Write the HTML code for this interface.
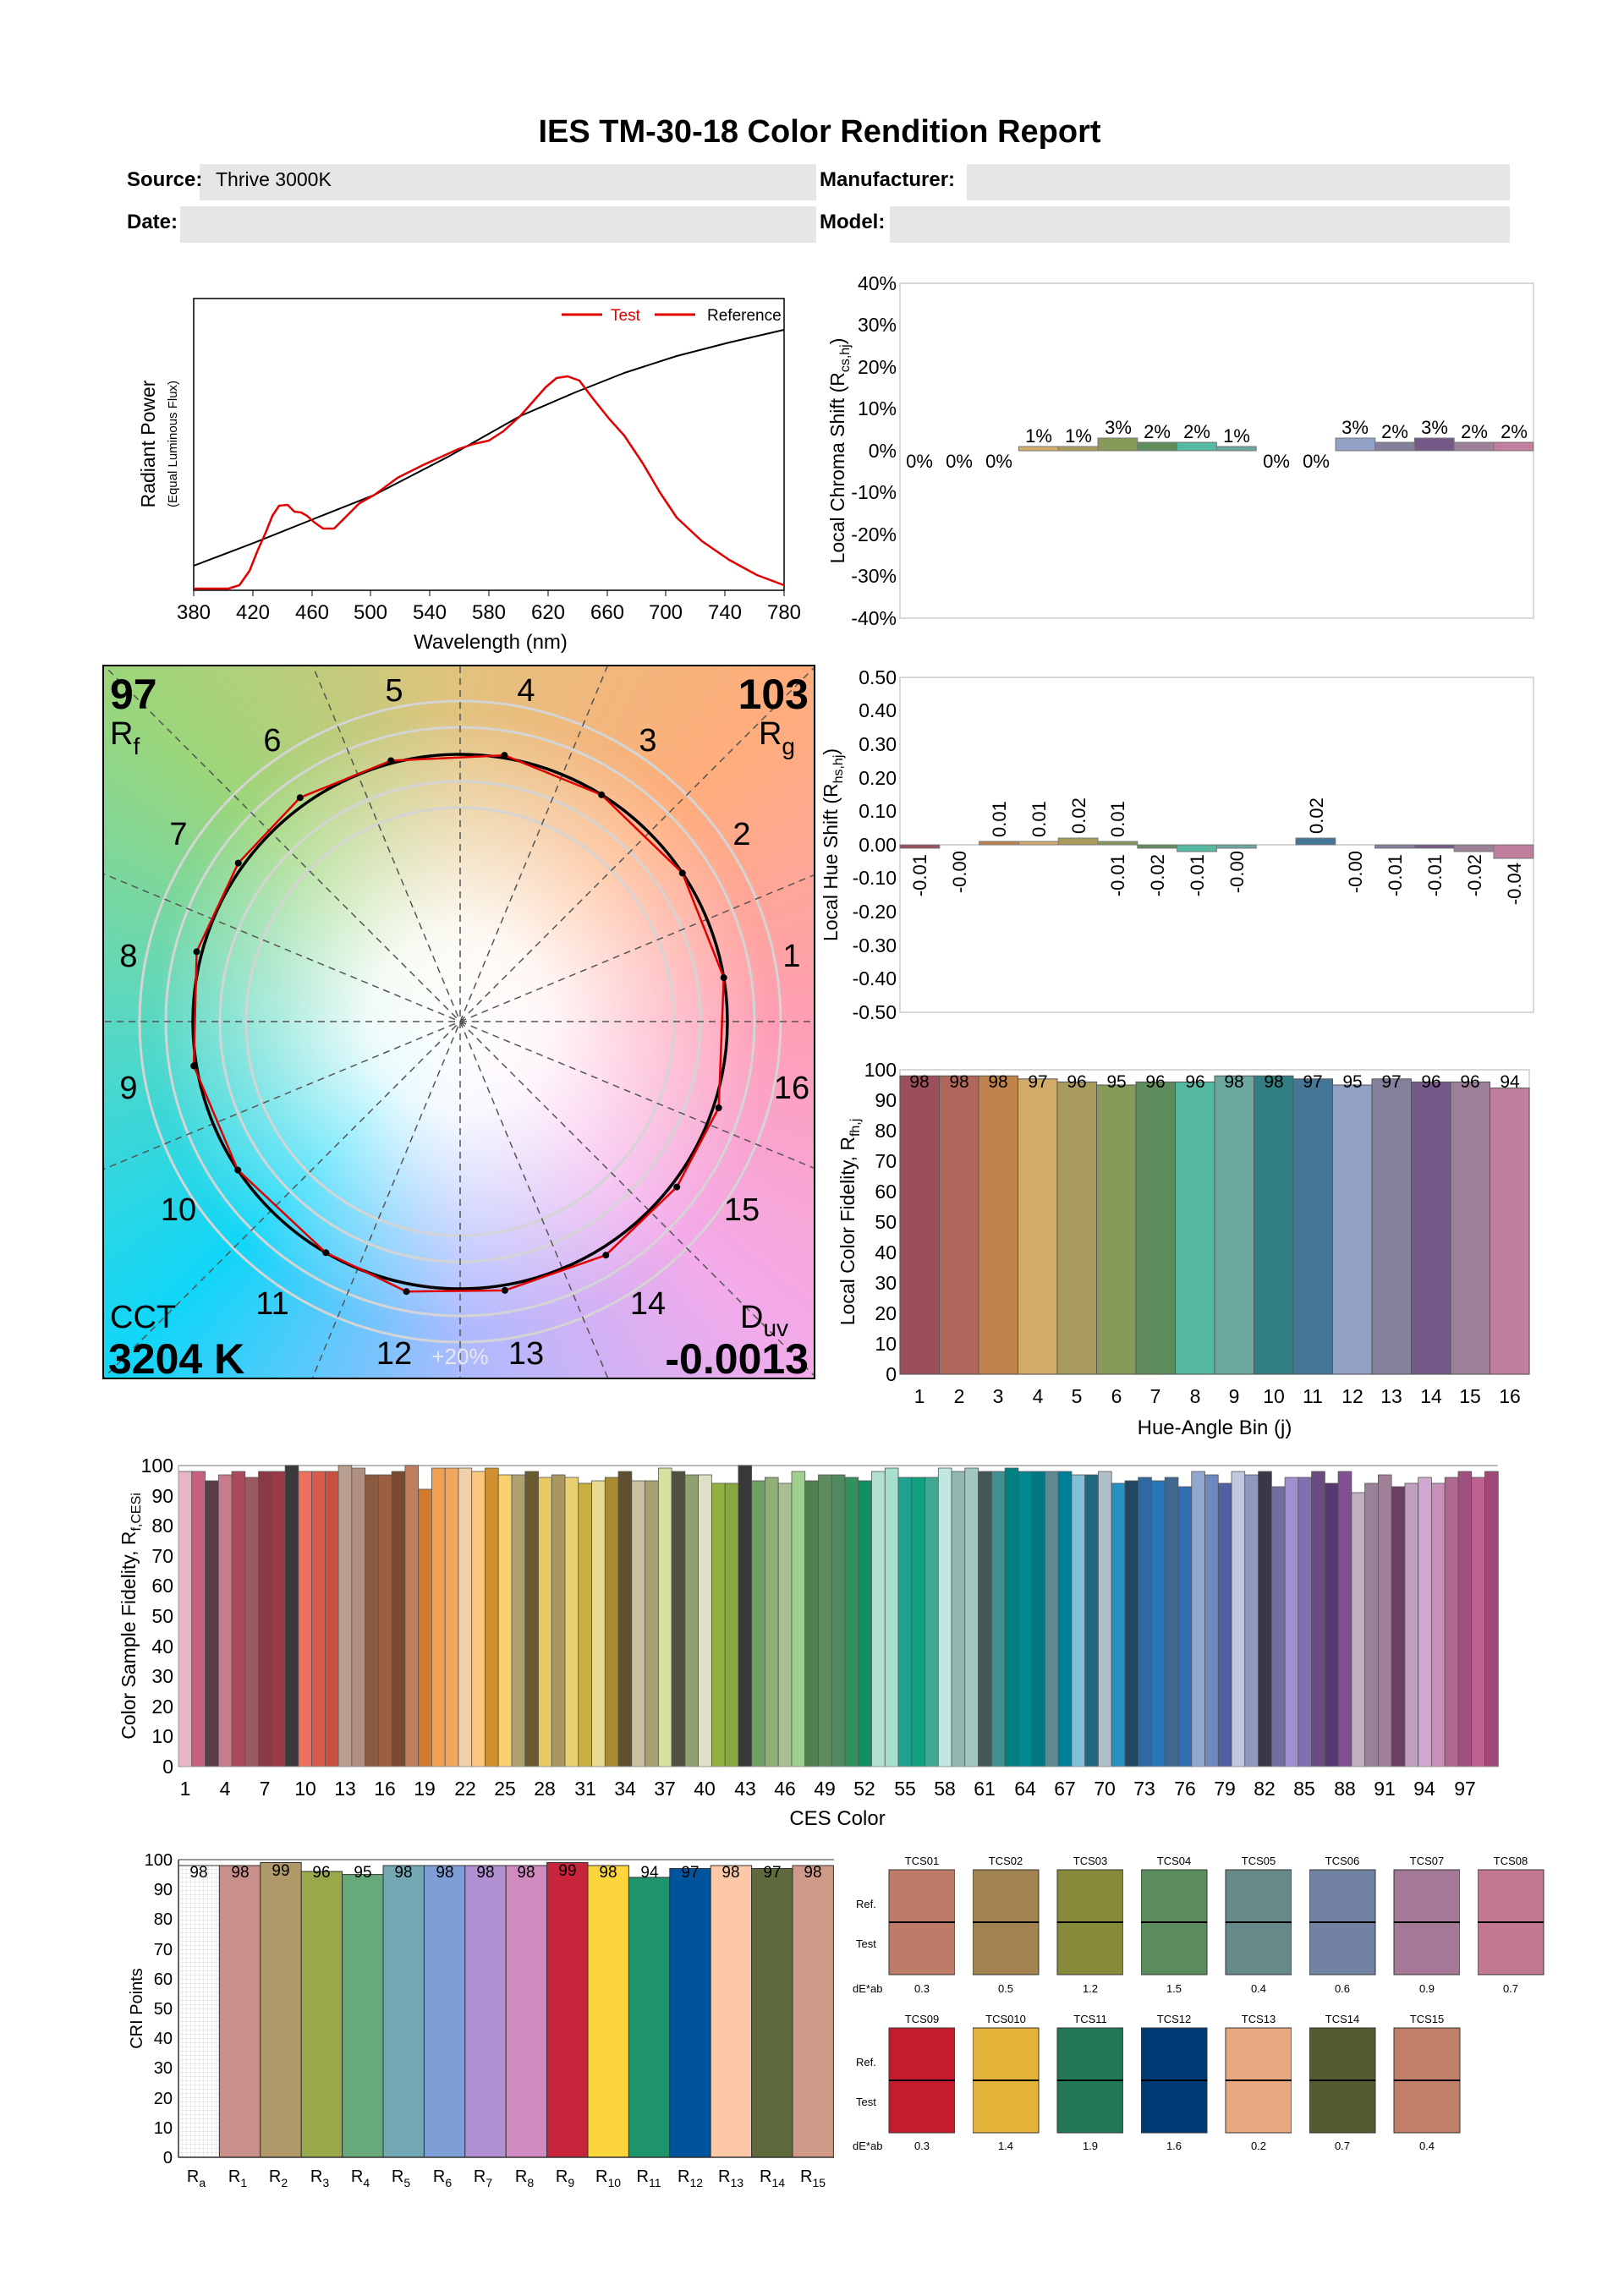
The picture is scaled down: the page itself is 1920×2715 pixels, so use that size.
<!DOCTYPE html>
<html><head><meta charset="utf-8"><style>
html,body{margin:0;padding:0;background:#fff;}
body{width:1920px;height:2715px;position:relative;overflow:hidden;font-family:"Liberation Sans",sans-serif;}
#vg{position:absolute;left:122px;top:787px;width:841px;height:843px;
background:radial-gradient(circle 430px at 422px 421px,#fff 0%,rgba(255,255,255,.9) 25%,rgba(255,255,255,.35) 60%,rgba(255,255,255,0) 85%),
conic-gradient(from 0deg at 422px 421px,#e2c27e 0deg,#ffad7c 45deg,#ff9eb4 90deg,#f3aaea 135deg,#acbaff 180deg,#10d6f8 225deg,#58d8c2 270deg,#9cd67a 315deg,#e2c27e 360deg);}
svg{position:absolute;left:0;top:0;}
text{font-family:"Liberation Sans",sans-serif;}
</style></head><body>
<div id="vg"></div>
<svg width="1920" height="2715" viewBox="0 0 1920 2715" xmlns="http://www.w3.org/2000/svg">
<!-- Header -->
<text x="969" y="168" font-size="38" font-weight="bold" text-anchor="middle">IES TM-30-18 Color Rendition Report</text>
<rect x="236" y="194" width="729" height="43" fill="#e6e6e6"/>
<rect x="1143" y="194" width="642" height="43" fill="#e6e6e6"/>
<rect x="213" y="244" width="752" height="43" fill="#e6e6e6"/>
<rect x="1052" y="244" width="733" height="43" fill="#e6e6e6"/>
<text x="150" y="220" font-size="24" font-weight="bold">Source:</text>
<text x="255" y="220" font-size="23">Thrive 3000K</text>
<text x="969" y="220" font-size="24" font-weight="bold">Manufacturer:</text>
<text x="150" y="270" font-size="24" font-weight="bold">Date:</text>
<text x="969" y="270" font-size="24" font-weight="bold">Model:</text>

<!-- Spectrum -->
<rect x="229" y="353" width="698" height="345" fill="none" stroke="#000" stroke-width="1.5"/>
<polyline points="229,669 300,642 370,614 443,585 530,540 615,492 680,464 738,441 800,421 862,405 927,390" fill="none" stroke="#000" stroke-width="2" stroke-linejoin="round"/>
<polyline points="229,696 270,696 283,692 295,675 305,650 314,630 322,610 330,598 340,597 348,605 356,606 363,610 372,618 382,625 395,625 410,610 425,595 443,585 470,565 500,550 542,531 560,525 578,521 595,510 615,492 630,475 645,458 658,447 671,445 685,450 700,470 720,495 738,515 760,548 780,582 800,612 830,640 862,662 895,680 927,692" fill="none" stroke="#e00000" stroke-width="2.5" stroke-linejoin="round"/>
<line x1="664" y1="372" x2="712" y2="372" stroke="#e00000" stroke-width="3"/>
<text x="722" y="379" font-size="19" fill="#e00000">Test</text>
<line x1="774" y1="372" x2="822" y2="372" stroke="#e00000" stroke-width="3"/>
<text x="836" y="379" font-size="19">Reference</text>
<g font-size="24" text-anchor="middle">
<text x="229" y="732">380</text><text x="299" y="732">420</text><text x="369" y="732">460</text><text x="438" y="732">500</text><text x="508" y="732">540</text><text x="578" y="732">580</text><text x="648" y="732">620</text><text x="718" y="732">660</text><text x="787" y="732">700</text><text x="857" y="732">740</text><text x="927" y="732">780</text>
</g>
<g stroke="#000"><line x1="229" y1="698" x2="229" y2="705"/><line x1="299" y1="698" x2="299" y2="705"/><line x1="369" y1="698" x2="369" y2="705"/><line x1="438" y1="698" x2="438" y2="705"/><line x1="508" y1="698" x2="508" y2="705"/><line x1="578" y1="698" x2="578" y2="705"/><line x1="648" y1="698" x2="648" y2="705"/><line x1="718" y1="698" x2="718" y2="705"/><line x1="787" y1="698" x2="787" y2="705"/><line x1="857" y1="698" x2="857" y2="705"/><line x1="927" y1="698" x2="927" y2="705"/></g>
<text x="580" y="767" font-size="24" text-anchor="middle">Wavelength (nm)</text>
<text transform="translate(183,525) rotate(-90)" font-size="23" text-anchor="middle">Radiant Power</text>
<text transform="translate(209,525) rotate(-90)" font-size="15" text-anchor="middle">(Equal Luminous Flux)</text>

<!-- Chroma shift -->
<rect x="1064" y="335" width="749" height="396" fill="none" stroke="#ccc" stroke-width="1.5"/>
<g font-size="23" text-anchor="end">
<text x="1060" y="343">40%</text><text x="1060" y="392">30%</text><text x="1060" y="442">20%</text><text x="1060" y="491">10%</text><text x="1060" y="541">0%</text><text x="1060" y="590">-10%</text><text x="1060" y="640">-20%</text><text x="1060" y="689">-30%</text><text x="1060" y="739">-40%</text>
</g>
<text transform="translate(998,533) rotate(-90)" font-size="23" text-anchor="middle">Local Chroma Shift (R<tspan font-size="16" dy="6">cs,hj</tspan><tspan dy="-6">)</tspan></text>
<g stroke="#777" stroke-width="1">
<rect x="1204.4" y="528" width="46.8" height="5" fill="#d1ab68"/>
<rect x="1251.2" y="528" width="46.8" height="5" fill="#a99b5e"/>
<rect x="1298" y="518" width="46.8" height="15" fill="#869a5a"/>
<rect x="1344.8" y="523" width="46.8" height="10" fill="#5f8c5d"/>
<rect x="1391.6" y="523" width="46.8" height="10" fill="#55b8a0"/>
<rect x="1438.4" y="528" width="46.8" height="5" fill="#6aa8a0"/>
<rect x="1579" y="518" width="46.8" height="15" fill="#92a0c6"/>
<rect x="1625.6" y="523" width="46.8" height="10" fill="#847f9b"/>
<rect x="1672.4" y="518" width="46.8" height="15" fill="#755a89"/>
<rect x="1719.2" y="523" width="46.8" height="10" fill="#9c8097"/>
<rect x="1766" y="523" width="46.8" height="10" fill="#c27e9d"/>
</g>
<g font-size="22" text-anchor="middle">
<text x="1087" y="553">0%</text><text x="1134" y="553">0%</text><text x="1181" y="553">0%</text>
<text x="1228" y="523">1%</text><text x="1275" y="523">1%</text><text x="1322" y="513">3%</text><text x="1368" y="518">2%</text><text x="1415" y="518">2%</text><text x="1462" y="523">1%</text>
<text x="1509" y="553">0%</text><text x="1556" y="553">0%</text>
<text x="1602" y="513">3%</text><text x="1649" y="518">2%</text><text x="1696" y="513">3%</text><text x="1743" y="518">2%</text><text x="1790" y="518">2%</text>
</g>

<!-- Hue shift -->
<rect x="1064" y="801" width="749" height="396" fill="none" stroke="#ccc" stroke-width="1.5"/>
<line x1="1064" y1="999" x2="1813" y2="999" stroke="#aaa"/>
<g font-size="23" text-anchor="end">
<text x="1060" y="809">0.50</text><text x="1060" y="848">0.40</text><text x="1060" y="888">0.30</text><text x="1060" y="928">0.20</text><text x="1060" y="967">0.10</text><text x="1060" y="1007">0.00</text><text x="1060" y="1046">-0.10</text><text x="1060" y="1086">-0.20</text><text x="1060" y="1126">-0.30</text><text x="1060" y="1165">-0.40</text><text x="1060" y="1205">-0.50</text>
</g>
<text transform="translate(990,999) rotate(-90)" font-size="23" text-anchor="middle">Local Hue Shift (R<tspan font-size="16" dy="6">hs,hj</tspan><tspan dy="-6">)</tspan></text>
<g stroke="#777" stroke-width="1">
<rect x="1064" y="999" width="46.8" height="4" fill="#9b4f5a"/>
<rect x="1157.6" y="995" width="46.8" height="4" fill="#c0834d"/>
<rect x="1204.4" y="995" width="46.8" height="4" fill="#d1ab68"/>
<rect x="1251.2" y="991" width="46.8" height="8" fill="#a99b5e"/>
<rect x="1298" y="995" width="46.8" height="4" fill="#869a5a"/>
<rect x="1344.8" y="999" width="46.8" height="4" fill="#5f8c5d"/>
<rect x="1391.6" y="999" width="46.8" height="8" fill="#55b8a0"/>
<rect x="1438.4" y="999" width="46.8" height="4" fill="#6aa8a0"/>
<rect x="1532" y="991" width="46.8" height="8" fill="#447797"/>
<rect x="1625.6" y="999" width="46.8" height="4" fill="#847f9b"/>
<rect x="1672.4" y="999" width="46.8" height="4" fill="#755a89"/>
<rect x="1719.2" y="999" width="46.8" height="8" fill="#9c8097"/>
<rect x="1766" y="999" width="46.8" height="16" fill="#c27e9d"/>
</g>
<g font-size="22" text-anchor="end">
<text transform="translate(1095,1010) rotate(-90)">-0.01</text>
<text transform="translate(1142,1006) rotate(-90)">-0.00</text>
<text transform="translate(1329,1010) rotate(-90)">-0.01</text>
<text transform="translate(1376,1010) rotate(-90)">-0.02</text>
<text transform="translate(1423,1010) rotate(-90)">-0.01</text>
<text transform="translate(1470,1006) rotate(-90)">-0.00</text>
<text transform="translate(1610,1006) rotate(-90)">-0.00</text>
<text transform="translate(1657,1010) rotate(-90)">-0.01</text>
<text transform="translate(1704,1010) rotate(-90)">-0.01</text>
<text transform="translate(1751,1010) rotate(-90)">-0.02</text>
<text transform="translate(1798,1020) rotate(-90)">-0.04</text>
</g>
<g font-size="22" text-anchor="start">
<text transform="translate(1189,990) rotate(-90)">0.01</text>
<text transform="translate(1236,990) rotate(-90)">0.01</text>
<text transform="translate(1283,986) rotate(-90)">0.02</text>
<text transform="translate(1329,990) rotate(-90)">0.01</text>
<text transform="translate(1564,986) rotate(-90)">0.02</text>
</g>

<!-- Local fidelity -->
<rect x="1064" y="1265" width="744" height="360" fill="none" stroke="#ccc" stroke-width="1.5"/>
<g stroke="#555" stroke-width="1">
<rect x="1064" y="1272.2" width="46.5" height="352.8" fill="#9b4f5a"/>
<rect x="1110.5" y="1272.2" width="46.5" height="352.8" fill="#b0665a"/>
<rect x="1157" y="1272.2" width="46.5" height="352.8" fill="#c0834d"/>
<rect x="1203.5" y="1275.8" width="46.5" height="349.2" fill="#d1ab68"/>
<rect x="1250" y="1279.4" width="46.5" height="345.6" fill="#a99b5e"/>
<rect x="1296.5" y="1283" width="46.5" height="342" fill="#869a5a"/>
<rect x="1343" y="1279.4" width="46.5" height="345.6" fill="#5f8c5d"/>
<rect x="1389.5" y="1279.4" width="46.5" height="345.6" fill="#55b8a0"/>
<rect x="1436" y="1272.2" width="46.5" height="352.8" fill="#6aa8a0"/>
<rect x="1482.5" y="1272.2" width="46.5" height="352.8" fill="#317f82"/>
<rect x="1529" y="1275.8" width="46.5" height="349.2" fill="#447797"/>
<rect x="1575.5" y="1283" width="46.5" height="342" fill="#92a0c6"/>
<rect x="1622" y="1275.8" width="46.5" height="349.2" fill="#847f9b"/>
<rect x="1668.5" y="1279.4" width="46.5" height="345.6" fill="#755a89"/>
<rect x="1715" y="1279.4" width="46.5" height="345.6" fill="#9c8097"/>
<rect x="1761.5" y="1286.6" width="46.5" height="338.4" fill="#c27e9d"/>
</g>
<g font-size="21" text-anchor="middle">
<text x="1087" y="1286">98</text><text x="1134" y="1286">98</text><text x="1180" y="1286">98</text><text x="1227" y="1286">97</text><text x="1273" y="1286">96</text><text x="1320" y="1286">95</text><text x="1366" y="1286">96</text><text x="1413" y="1286">96</text><text x="1459" y="1286">98</text><text x="1506" y="1286">98</text><text x="1552" y="1286">97</text><text x="1599" y="1286">95</text><text x="1645" y="1286">97</text><text x="1692" y="1286">96</text><text x="1738" y="1286">96</text><text x="1785" y="1286">94</text>
</g>
<g font-size="23" text-anchor="end">
<text x="1060" y="1633">0</text><text x="1060" y="1597">10</text><text x="1060" y="1561">20</text><text x="1060" y="1525">30</text><text x="1060" y="1489">40</text><text x="1060" y="1453">50</text><text x="1060" y="1417">60</text><text x="1060" y="1381">70</text><text x="1060" y="1345">80</text><text x="1060" y="1309">90</text><text x="1060" y="1273">100</text>
</g>
<g font-size="23" text-anchor="middle">
<text x="1087" y="1659">1</text><text x="1134" y="1659">2</text><text x="1180" y="1659">3</text><text x="1227" y="1659">4</text><text x="1273" y="1659">5</text><text x="1320" y="1659">6</text><text x="1366" y="1659">7</text><text x="1413" y="1659">8</text><text x="1459" y="1659">9</text><text x="1506" y="1659">10</text><text x="1552" y="1659">11</text><text x="1599" y="1659">12</text><text x="1645" y="1659">13</text><text x="1692" y="1659">14</text><text x="1738" y="1659">15</text><text x="1785" y="1659">16</text>
</g>
<text x="1436" y="1696" font-size="24" text-anchor="middle">Hue-Angle Bin (j)</text>
<text transform="translate(1010,1445) rotate(-90)" font-size="23" text-anchor="middle">Local Color Fidelity, R<tspan font-size="16" dy="6">fh,j</tspan></text>

<!-- Vector graphic -->
<defs><clipPath id="vc"><rect x="122" y="787" width="841" height="843"/></clipPath></defs>
<g clip-path="url(#vc)">
<g fill="none" stroke="#d4d4d4" stroke-width="3">
<circle cx="544" cy="1208" r="379"/><circle cx="544" cy="1208" r="348"/><circle cx="544" cy="1208" r="284"/><circle cx="544" cy="1208" r="253"/>
</g>
<g stroke="#555" stroke-width="1.5" stroke-dasharray="8,6">
<line x1="-156" y1="1208" x2="1244" y2="1208"/><line x1="544" y1="508" x2="544" y2="1908"/>
<line x1="-103" y1="940" x2="1191" y2="1476"/><line x1="-103" y1="1476" x2="1191" y2="940"/>
<line x1="49" y1="713" x2="1039" y2="1703"/><line x1="49" y1="1703" x2="1039" y2="713"/>
<line x1="276" y1="561" x2="812" y2="1855"/><line x1="276" y1="1855" x2="812" y2="561"/>
</g>
<circle cx="544" cy="1208" r="316" fill="none" stroke="#000" stroke-width="3.5"/>
<polygon points="855.7,1156.1 806.8,1032.4 711.2,939.9 596.4,893.1 462.2,899.5 354.8,943.2 281.7,1020.6 232.5,1125.4 229.1,1260.4 281.2,1383.6 385.3,1481.3 480.5,1527.2 596.9,1525.9 716.3,1484.2 800.2,1403.6 849.7,1310.0" fill="none" stroke="#e00000" stroke-width="2.5"/>
<g fill="#000">
<circle cx="855.7" cy="1156.1" r="4"/><circle cx="806.8" cy="1032.4" r="4"/><circle cx="711.2" cy="939.9" r="4"/><circle cx="596.4" cy="893.1" r="4"/><circle cx="462.2" cy="899.5" r="4"/><circle cx="354.8" cy="943.2" r="4"/><circle cx="281.7" cy="1020.6" r="4"/><circle cx="232.5" cy="1125.4" r="4"/><circle cx="229.1" cy="1260.4" r="4"/><circle cx="281.2" cy="1383.6" r="4"/><circle cx="385.3" cy="1481.3" r="4"/><circle cx="480.5" cy="1527.2" r="4"/><circle cx="596.9" cy="1525.9" r="4"/><circle cx="716.3" cy="1484.2" r="4"/><circle cx="800.2" cy="1403.6" r="4"/><circle cx="849.7" cy="1310.0" r="4"/>
</g>
<g font-size="38" text-anchor="middle">
<text x="936" y="1143">1</text><text x="877" y="999">2</text><text x="766" y="888">3</text><text x="622" y="829">4</text><text x="466" y="829">5</text><text x="322" y="888">6</text><text x="211" y="999">7</text><text x="152" y="1143">8</text><text x="152" y="1299">9</text><text x="211" y="1443">10</text><text x="322" y="1554">11</text><text x="466" y="1613">12</text><text x="622" y="1613">13</text><text x="766" y="1554">14</text><text x="877" y="1443">15</text><text x="936" y="1299">16</text>
</g>
<text x="544" y="1613" font-size="26" fill="#e8e8e8" text-anchor="middle">+20%</text>
<text x="130" y="838" font-size="50" font-weight="bold">97</text>
<text x="130" y="880" font-size="38">R<tspan font-size="28" dy="12">f</tspan></text>
<text x="956" y="838" font-size="50" font-weight="bold" text-anchor="end">103</text>
<text x="940" y="880" font-size="38" text-anchor="end">R<tspan font-size="28" dy="12">g</tspan></text>
<text x="130" y="1570" font-size="38">CCT</text>
<text x="128" y="1624" font-size="50" font-weight="bold">3204 K</text>
<text x="875" y="1570" font-size="38">D<tspan font-size="28" dy="10">uv</tspan></text>
<text x="956" y="1624" font-size="50" font-weight="bold" text-anchor="end">-0.0013</text>
</g>
<rect x="122" y="787" width="841" height="843" fill="none" stroke="#000" stroke-width="2"/>

<!-- CES chart -->
<line x1="211" y1="1733" x2="1771" y2="1733" stroke="#bbb" stroke-width="2"/>
<g stroke="#555" stroke-width="0.8">
<rect x="211.0" y="1740" width="15.76" height="349" fill="#e9b5c5"/><rect x="226.8" y="1740" width="15.76" height="349" fill="#c7607d"/><rect x="242.5" y="1751" width="15.76" height="338" fill="#5a3d44"/><rect x="258.3" y="1744" width="15.76" height="345" fill="#c97d8c"/><rect x="274.0" y="1740" width="15.76" height="349" fill="#a84a5a"/><rect x="289.8" y="1747" width="15.76" height="342" fill="#9a5a60"/><rect x="305.6" y="1740" width="15.76" height="349" fill="#8a3a45"/><rect x="321.3" y="1740" width="15.76" height="349" fill="#9a3a48"/><rect x="337.1" y="1733" width="15.76" height="356" fill="#3a3a3a"/><rect x="352.8" y="1740" width="15.76" height="349" fill="#f07060"/>
<rect x="368.6" y="1740" width="15.76" height="349" fill="#d85a4a"/><rect x="384.4" y="1740" width="15.76" height="349" fill="#c85040"/><rect x="400.1" y="1733" width="15.76" height="356" fill="#b8a090"/><rect x="415.9" y="1736" width="15.76" height="353" fill="#b09080"/><rect x="431.6" y="1744" width="15.76" height="345" fill="#8a5a40"/><rect x="447.4" y="1744" width="15.76" height="345" fill="#9a6040"/><rect x="463.2" y="1740" width="15.76" height="349" fill="#7a4a30"/><rect x="478.9" y="1733" width="15.76" height="356" fill="#c08060"/><rect x="494.7" y="1761" width="15.76" height="328" fill="#d07a30"/><rect x="510.4" y="1736" width="15.76" height="353" fill="#f0a050"/>
<rect x="526.2" y="1736" width="15.76" height="353" fill="#f0a860"/><rect x="542.0" y="1736" width="15.76" height="353" fill="#f0d0a8"/><rect x="557.7" y="1740" width="15.76" height="349" fill="#f8c880"/><rect x="573.5" y="1736" width="15.76" height="353" fill="#d09030"/><rect x="589.2" y="1744" width="15.76" height="345" fill="#f8d070"/><rect x="605.0" y="1744" width="15.76" height="345" fill="#b0a070"/><rect x="620.8" y="1740" width="15.76" height="349" fill="#6a5a30"/><rect x="636.5" y="1747" width="15.76" height="342" fill="#e8c860"/><rect x="652.3" y="1744" width="15.76" height="345" fill="#a89860"/><rect x="668.0" y="1747" width="15.76" height="342" fill="#e8d070"/>
<rect x="683.8" y="1754" width="15.76" height="335" fill="#c8b040"/><rect x="699.6" y="1751" width="15.76" height="338" fill="#e8d890"/><rect x="715.3" y="1747" width="15.76" height="342" fill="#a88a30"/><rect x="731.1" y="1740" width="15.76" height="349" fill="#605030"/><rect x="746.8" y="1751" width="15.76" height="338" fill="#c8c0a0"/><rect x="762.6" y="1751" width="15.76" height="338" fill="#a8a070"/><rect x="778.4" y="1736" width="15.76" height="353" fill="#d8e0a0"/><rect x="794.1" y="1740" width="15.76" height="349" fill="#505040"/><rect x="809.9" y="1744" width="15.76" height="345" fill="#90a070"/><rect x="825.6" y="1744" width="15.76" height="345" fill="#e0e0c8"/>
<rect x="841.4" y="1754" width="15.76" height="335" fill="#90b040"/><rect x="857.2" y="1754" width="15.76" height="335" fill="#8aa840"/><rect x="872.9" y="1733" width="15.76" height="356" fill="#383838"/><rect x="888.7" y="1751" width="15.76" height="338" fill="#70a060"/><rect x="904.4" y="1747" width="15.76" height="342" fill="#90b078"/><rect x="920.2" y="1754" width="15.76" height="335" fill="#a8c090"/><rect x="936.0" y="1740" width="15.76" height="349" fill="#a0d090"/><rect x="951.7" y="1751" width="15.76" height="338" fill="#508050"/><rect x="967.5" y="1744" width="15.76" height="345" fill="#608a60"/><rect x="983.2" y="1744" width="15.76" height="345" fill="#508860"/>
<rect x="999.0" y="1747" width="15.76" height="342" fill="#309060"/><rect x="1014.8" y="1751" width="15.76" height="338" fill="#109060"/><rect x="1030.5" y="1740" width="15.76" height="349" fill="#b0e0d0"/><rect x="1046.3" y="1736" width="15.76" height="353" fill="#a8e0d0"/><rect x="1062.0" y="1747" width="15.76" height="342" fill="#20a090"/><rect x="1077.8" y="1747" width="15.76" height="342" fill="#10a080"/><rect x="1093.6" y="1747" width="15.76" height="342" fill="#40a890"/><rect x="1109.3" y="1736" width="15.76" height="353" fill="#c0e8e0"/><rect x="1125.1" y="1740" width="15.76" height="349" fill="#90b8b0"/><rect x="1140.8" y="1736" width="15.76" height="353" fill="#a0c8c0"/>
<rect x="1156.6" y="1740" width="15.76" height="349" fill="#405858"/><rect x="1172.4" y="1740" width="15.76" height="349" fill="#409090"/><rect x="1188.1" y="1736" width="15.76" height="353" fill="#008080"/><rect x="1203.9" y="1740" width="15.76" height="349" fill="#008890"/><rect x="1219.6" y="1740" width="15.76" height="349" fill="#007880"/><rect x="1235.4" y="1740" width="15.76" height="349" fill="#608890"/><rect x="1251.2" y="1740" width="15.76" height="349" fill="#008098"/><rect x="1266.9" y="1744" width="15.76" height="345" fill="#80c0d8"/><rect x="1282.7" y="1744" width="15.76" height="345" fill="#206880"/><rect x="1298.4" y="1740" width="15.76" height="349" fill="#b0c0c8"/>
<rect x="1314.2" y="1754" width="15.76" height="335" fill="#2890c0"/><rect x="1330.0" y="1751" width="15.76" height="338" fill="#204860"/><rect x="1345.7" y="1747" width="15.76" height="342" fill="#3068a0"/><rect x="1361.5" y="1751" width="15.76" height="338" fill="#2878b8"/><rect x="1377.2" y="1747" width="15.76" height="342" fill="#406890"/><rect x="1393.0" y="1758" width="15.76" height="331" fill="#3070b0"/><rect x="1408.8" y="1740" width="15.76" height="349" fill="#90a8d0"/><rect x="1424.5" y="1744" width="15.76" height="345" fill="#7088c0"/><rect x="1440.3" y="1754" width="15.76" height="335" fill="#5060a0"/><rect x="1456.0" y="1740" width="15.76" height="349" fill="#c0c8e0"/>
<rect x="1471.8" y="1744" width="15.76" height="345" fill="#9098c0"/><rect x="1487.6" y="1740" width="15.76" height="349" fill="#383848"/><rect x="1503.3" y="1758" width="15.76" height="331" fill="#7070a0"/><rect x="1519.1" y="1747" width="15.76" height="342" fill="#a090d0"/><rect x="1534.8" y="1747" width="15.76" height="342" fill="#8070b0"/><rect x="1550.6" y="1740" width="15.76" height="349" fill="#6a4a80"/><rect x="1566.4" y="1754" width="15.76" height="335" fill="#583870"/><rect x="1582.1" y="1740" width="15.76" height="349" fill="#805090"/><rect x="1597.9" y="1765" width="15.76" height="324" fill="#c0b0c0"/><rect x="1613.6" y="1754" width="15.76" height="335" fill="#9a8098"/>
<rect x="1629.4" y="1744" width="15.76" height="345" fill="#a08098"/><rect x="1645.2" y="1758" width="15.76" height="331" fill="#6a4060"/><rect x="1660.9" y="1754" width="15.76" height="335" fill="#c0a0c0"/><rect x="1676.7" y="1747" width="15.76" height="342" fill="#d0a8d0"/><rect x="1692.4" y="1754" width="15.76" height="335" fill="#c890b8"/><rect x="1708.2" y="1747" width="15.76" height="342" fill="#b06890"/><rect x="1724.0" y="1740" width="15.76" height="349" fill="#a05080"/><rect x="1739.7" y="1747" width="15.76" height="342" fill="#c06090"/><rect x="1755.5" y="1740" width="15.76" height="349" fill="#a04878"/>
</g>
<line x1="211" y1="1733" x2="211" y2="2089" stroke="#999"/>
<line x1="211" y1="2089" x2="1771" y2="2089" stroke="#999"/>
<g font-size="23" text-anchor="end">
<text x="205" y="2097">0</text><text x="205" y="2061">10</text><text x="205" y="2026">20</text><text x="205" y="1990">30</text><text x="205" y="1955">40</text><text x="205" y="1919">50</text><text x="205" y="1883">60</text><text x="205" y="1848">70</text><text x="205" y="1812">80</text><text x="205" y="1777">90</text><text x="205" y="1741">100</text>
</g>
<g font-size="23" text-anchor="middle">
<text x="219" y="2123">1</text><text x="266" y="2123">4</text><text x="313" y="2123">7</text><text x="361" y="2123">10</text><text x="408" y="2123">13</text><text x="455" y="2123">16</text><text x="502" y="2123">19</text><text x="550" y="2123">22</text><text x="597" y="2123">25</text><text x="644" y="2123">28</text><text x="692" y="2123">31</text><text x="739" y="2123">34</text><text x="786" y="2123">37</text><text x="833" y="2123">40</text><text x="881" y="2123">43</text><text x="928" y="2123">46</text><text x="975" y="2123">49</text><text x="1022" y="2123">52</text><text x="1070" y="2123">55</text><text x="1117" y="2123">58</text><text x="1164" y="2123">61</text><text x="1212" y="2123">64</text><text x="1259" y="2123">67</text><text x="1306" y="2123">70</text><text x="1353" y="2123">73</text><text x="1401" y="2123">76</text><text x="1448" y="2123">79</text><text x="1495" y="2123">82</text><text x="1542" y="2123">85</text><text x="1590" y="2123">88</text><text x="1637" y="2123">91</text><text x="1684" y="2123">94</text><text x="1732" y="2123">97</text>
</g>
<text x="990" y="2158" font-size="24" text-anchor="middle">CES Color</text>
<text transform="translate(160,1911) rotate(-90)" font-size="23" text-anchor="middle">Color Sample Fidelity, R<tspan font-size="16" dy="6">f,CESi</tspan></text>

<!-- CRI chart -->
<defs><pattern id="grid" width="5" height="5" patternUnits="userSpaceOnUse"><rect width="5" height="5" fill="#fff"/><path d="M5,0 L0,0 0,5" fill="none" stroke="#ccc" stroke-width="0.7"/></pattern></defs>
<line x1="211" y1="2199" x2="986" y2="2199" stroke="#999" stroke-width="2"/>
<g stroke="#333" stroke-width="1">
<rect x="211" y="2206" width="48.4" height="345" fill="url(#grid)"/>
<rect x="259.4" y="2206" width="48.4" height="345" fill="#c98f8a"/>
<rect x="307.8" y="2202.5" width="48.4" height="348.5" fill="#b09968"/>
<rect x="356.2" y="2213" width="48.4" height="338" fill="#98a84a"/>
<rect x="404.6" y="2216.6" width="48.4" height="334.4" fill="#66aa7a"/>
<rect x="453" y="2206" width="48.4" height="345" fill="#73a8b3"/>
<rect x="501.4" y="2206" width="48.4" height="345" fill="#7e9ed6"/>
<rect x="549.8" y="2206" width="48.4" height="345" fill="#b090d0"/>
<rect x="598.2" y="2206" width="48.4" height="345" fill="#d08ac0"/>
<rect x="646.6" y="2202.5" width="48.4" height="348.5" fill="#c8243c"/>
<rect x="695" y="2206" width="48.4" height="345" fill="#fcd53c"/>
<rect x="743.4" y="2220" width="48.4" height="331" fill="#1d946a"/>
<rect x="791.8" y="2209.5" width="48.4" height="341.5" fill="#00539d"/>
<rect x="840.2" y="2206" width="48.4" height="345" fill="#fdc8a8"/>
<rect x="888.6" y="2209.5" width="48.4" height="341.5" fill="#5e6a3c"/>
<rect x="937" y="2206" width="48.4" height="345" fill="#d09a88"/>
</g>
<line x1="211" y1="2199" x2="211" y2="2551" stroke="#333" stroke-width="1.5"/>
<line x1="211" y1="2551" x2="986" y2="2551" stroke="#333" stroke-width="1.5"/>
<g font-size="19" text-anchor="middle">
<text x="235" y="2220">98</text><text x="284" y="2220">98</text><text x="332" y="2218">99</text><text x="380" y="2220">96</text><text x="429" y="2220">95</text><text x="477" y="2220">98</text><text x="526" y="2220">98</text><text x="574" y="2220">98</text><text x="622" y="2220">98</text><text x="671" y="2218">99</text><text x="719" y="2220">98</text><text x="768" y="2220">94</text><text x="816" y="2220">97</text><text x="864" y="2220">98</text><text x="913" y="2220">97</text><text x="961" y="2220">98</text>
</g>
<g font-size="20" text-anchor="end">
<text x="204" y="2558">0</text><text x="204" y="2523">10</text><text x="204" y="2488">20</text><text x="204" y="2452">30</text><text x="204" y="2417">40</text><text x="204" y="2382">50</text><text x="204" y="2347">60</text><text x="204" y="2312">70</text><text x="204" y="2276">80</text><text x="204" y="2241">90</text><text x="204" y="2206">100</text>
</g>
<text transform="translate(168,2375) rotate(-90)" font-size="20" text-anchor="middle">CRI Points</text>
<g font-size="20" text-anchor="middle">
<text x="232" y="2580">R<tspan font-size="14" dy="6">a</tspan></text>
<text x="281" y="2580">R<tspan font-size="14" dy="6">1</tspan></text>
<text x="329" y="2580">R<tspan font-size="14" dy="6">2</tspan></text>
<text x="378" y="2580">R<tspan font-size="14" dy="6">3</tspan></text>
<text x="426" y="2580">R<tspan font-size="14" dy="6">4</tspan></text>
<text x="474" y="2580">R<tspan font-size="14" dy="6">5</tspan></text>
<text x="523" y="2580">R<tspan font-size="14" dy="6">6</tspan></text>
<text x="571" y="2580">R<tspan font-size="14" dy="6">7</tspan></text>
<text x="620" y="2580">R<tspan font-size="14" dy="6">8</tspan></text>
<text x="668" y="2580">R<tspan font-size="14" dy="6">9</tspan></text>
<text x="719" y="2580">R<tspan font-size="14" dy="6">10</tspan></text>
<text x="767" y="2580">R<tspan font-size="14" dy="6">11</tspan></text>
<text x="816" y="2580">R<tspan font-size="14" dy="6">12</tspan></text>
<text x="864" y="2580">R<tspan font-size="14" dy="6">13</tspan></text>
<text x="913" y="2580">R<tspan font-size="14" dy="6">14</tspan></text>
<text x="961" y="2580">R<tspan font-size="14" dy="6">15</tspan></text>
</g>

<!-- TCS swatches -->
<g font-size="13" text-anchor="middle">
<text x="1090" y="2205">TCS01</text><text x="1189" y="2205">TCS02</text><text x="1289" y="2205">TCS03</text><text x="1388" y="2205">TCS04</text><text x="1488" y="2205">TCS05</text><text x="1587" y="2205">TCS06</text><text x="1687" y="2205">TCS07</text><text x="1786" y="2205">TCS08</text>
<text x="1090" y="2392">TCS09</text><text x="1189" y="2392">TCS010</text><text x="1289" y="2392">TCS11</text><text x="1388" y="2392">TCS12</text><text x="1488" y="2392">TCS13</text><text x="1587" y="2392">TCS14</text><text x="1687" y="2392">TCS15</text>
</g>
<g font-size="13">
<text x="1012" y="2256">Ref.</text><text x="1012" y="2303">Test</text><text x="1008" y="2356">dE*ab</text>
<text x="1012" y="2443">Ref.</text><text x="1012" y="2490">Test</text><text x="1008" y="2542">dE*ab</text>
</g>
<g font-size="13" text-anchor="middle">
<text x="1090" y="2356">0.3</text><text x="1189" y="2356">0.5</text><text x="1289" y="2356">1.2</text><text x="1388" y="2356">1.5</text><text x="1488" y="2356">0.4</text><text x="1587" y="2356">0.6</text><text x="1687" y="2356">0.9</text><text x="1786" y="2356">0.7</text>
<text x="1090" y="2542">0.3</text><text x="1189" y="2542">1.4</text><text x="1289" y="2542">1.9</text><text x="1388" y="2542">1.6</text><text x="1488" y="2542">0.2</text><text x="1587" y="2542">0.7</text><text x="1687" y="2542">0.4</text>
</g>
<g stroke="#333" stroke-width="1">
<rect x="1051" y="2211" width="78" height="124" fill="#bd7b68"/><rect x="1150" y="2211" width="78" height="124" fill="#a2834f"/><rect x="1250" y="2211" width="78" height="124" fill="#878a3b"/><rect x="1349" y="2211" width="78" height="124" fill="#5b8c5e"/><rect x="1449" y="2211" width="78" height="124" fill="#678a88"/><rect x="1548" y="2211" width="78" height="124" fill="#7282a2"/><rect x="1648" y="2211" width="78" height="124" fill="#a47896"/><rect x="1747" y="2211" width="78" height="124" fill="#c27890"/>
<rect x="1051" y="2398" width="78" height="124" fill="#c41c2c"/><rect x="1150" y="2398" width="78" height="124" fill="#e4b43a"/><rect x="1250" y="2398" width="78" height="124" fill="#237855"/><rect x="1349" y="2398" width="78" height="124" fill="#003a75"/><rect x="1449" y="2398" width="78" height="124" fill="#e8a880"/><rect x="1548" y="2398" width="78" height="124" fill="#535b30"/><rect x="1648" y="2398" width="78" height="124" fill="#c08068"/>
</g>
<g stroke="#000" stroke-width="2">
<line x1="1051" y1="2273" x2="1825" y2="2273"/>
<line x1="1051" y1="2460" x2="1726" y2="2460"/>
</g>
<g stroke="#fff" stroke-width="21">
<line x1="1139.5" y1="2200" x2="1139.5" y2="2340"/><line x1="1239" y1="2200" x2="1239" y2="2340"/><line x1="1338.5" y1="2200" x2="1338.5" y2="2340"/><line x1="1438" y1="2200" x2="1438" y2="2340"/><line x1="1537.5" y1="2200" x2="1537.5" y2="2340"/><line x1="1637" y1="2200" x2="1637" y2="2340"/><line x1="1736.5" y1="2200" x2="1736.5" y2="2340"/>
<line x1="1139.5" y1="2390" x2="1139.5" y2="2525"/><line x1="1239" y1="2390" x2="1239" y2="2525"/><line x1="1338.5" y1="2390" x2="1338.5" y2="2525"/><line x1="1438" y1="2390" x2="1438" y2="2525"/><line x1="1537.5" y1="2390" x2="1537.5" y2="2525"/><line x1="1637" y1="2390" x2="1637" y2="2525"/>
</g>
</svg>
</body></html>
